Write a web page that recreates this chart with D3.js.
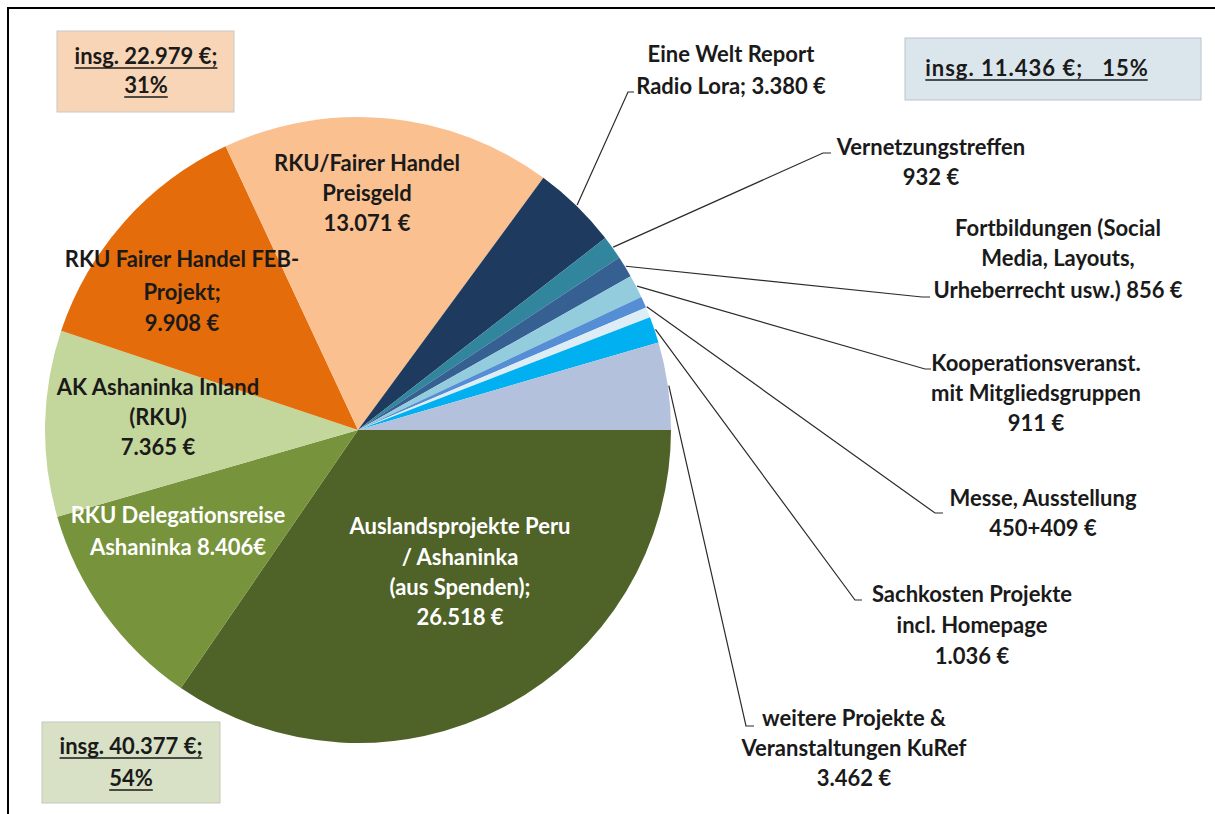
<!DOCTYPE html>
<html><head><meta charset="utf-8">
<script src="https://cdn.jsdelivr.net/npm/d3@7"></script>
<style>body{margin:0;background:#fff}svg{display:block}text{font-family:Lato,"Open Sans",sans-serif;font-weight:700}</style>
</head><body>
<svg id="c" width="1215" height="814"></svg>
<script>
const categories = ["Auslandsprojekte Peru / Ashaninka (aus Spenden)","RKU Delegationsreise Ashaninka","AK Ashaninka Inland (RKU)","RKU Fairer Handel FEB-Projekt","RKU/Fairer Handel Preisgeld","Eine Welt Report Radio Lora","Vernetzungstreffen","Fortbildungen (Social Media, Layouts, Urheberrecht usw.)","Kooperationsveranst. mit Mitgliedsgruppen","Messe","Ausstellung","Sachkosten Projekte incl. Homepage","weitere Projekte & Veranstaltungen KuRef"];
const values = [26518, 8406, 7365, 9908, 13071, 3380, 932, 856, 911, 450, 409, 1036, 3462];
const sliceColors = ["#4f6228","#77933c","#c3d69b","#e46c0a","#fac090","#1f3a5f","#31859c","#376092","#93cddd","#558ed5","#dcedf5","#00b0f0","#b4c1dc"];
const labelTexts = [
  ["Auslandsprojekte Peru","/ Ashaninka","(aus Spenden);","26.518 €"],
  ["RKU Delegationsreise","Ashaninka 8.406€"],
  ["AK Ashaninka Inland","(RKU)","7.365 €"],
  ["RKU Fairer Handel FEB-","Projekt;","9.908 €"],
  ["RKU/Fairer Handel","Preisgeld","13.071 €"],
  ["Eine Welt Report","Radio Lora; 3.380 €"],
  ["Vernetzungstreffen","932 €"],
  ["Fortbildungen (Social","Media, Layouts,","Urheberrecht usw.) 856 €"],
  ["Kooperationsveranst.","mit Mitgliedsgruppen","911 €"],
  ["Messe, Ausstellung","450+409 €"],
  ["Sachkosten Projekte","incl. Homepage","1.036 €"],
  ["weitere Projekte &","Veranstaltungen KuRef","3.462 €"]
];
// which slices each label refers to
const labelSlices = [[0],[1],[2],[3],[4],[5],[6],[7],[8],[9,10],[11],[12]];
const groupTotals = [["insg. 22.979 €;","31%"],["insg. 11.436 €;   15%"],["insg. 40.377 €;","54%"]];

const svg = d3.select("#c");
const cx = 358, cy = 430, R = 313;
const FS = 22;

// frame
svg.append("path").attr("d","M8,814 V8 H1215").attr("fill","none").attr("stroke","#000").attr("stroke-width",2);

const pie = d3.pie().sort(null).value(d=>d).startAngle(Math.PI/2).endAngle(Math.PI/2+2*Math.PI);
const arcs = pie(values);
const arc = d3.arc().innerRadius(0).outerRadius(R);
const g = svg.append("g").attr("transform",`translate(${cx},${cy})`);
g.selectAll("path").data(arcs).join("path").attr("d",arc).attr("fill",(d,i)=>sliceColors[i]);

// label layout (positions)
const layout = [
  {x:460, ys:[526,557,587,617], fill:"#fff"},
  {x:178, ys:[515,547], fill:"#fff"},
  {x:158, ys:[387,417,447]},
  {x:182, ys:[259,292,323]},
  {x:367, ys:[163,193,223]},
  {x:731, ys:[54,86], end:[628,92], tick:634},
  {x:931, ys:[147,177], end:[823,153], tick:831},
  {x:1058, ys:[228,258,290], end:[922,297], tick:930},
  {x:1036, ys:[363,393,423], end:[925,369], tick:931},
  {x:1043, ys:[498,528], end:[935,513], tick:943},
  {x:972, ys:[594,625,656], end:[855,600], tick:862},
  {x:854, ys:[718,748,778], end:[746,726], tick:754}
];

const leaders = svg.append("g").attr("fill","none").attr("stroke","#2b2b2b").attr("stroke-width",1.2);
labelTexts.forEach((lines,i)=>{
  const L = layout[i];
  if (L.end) {
    const sl = labelSlices[i];
    const a0 = arcs[sl[0]].startAngle, a1 = arcs[sl[sl.length-1]].endAngle;
    const am = (a0+a1)/2, rr = R+1;
    const sx = cx + rr*Math.sin(am), sy = cy - rr*Math.cos(am);
    leaders.append("path").attr("d",`M${sx},${sy} L${L.end[0]},${L.end[1]} L${L.tick},${L.end[1]}`);
  }
  const t = svg.append("text").attr("text-anchor","middle").attr("font-size",FS).attr("fill",L.fill||"#1a1a1a");
  lines.forEach((s,j)=>{
    t.append("tspan").attr("x",L.x).attr("y",L.ys[j]).attr("dy","0.35em").text(s);
  });
});

// group total boxes
const boxes = [
  {x:57,y:31,w:177,h:81,fill:"#f9d5b7",stroke:"#c8c8c8",cx:146,ys:[56,85],ls:0},
  {x:905,y:38,w:296,h:62,fill:"#dbe6ec",stroke:"#b8c4cc",cx:1037,ys:[68],ls:1},
  {x:42,y:722,w:178,h:81,fill:"#d8e0c5",stroke:"#c4c8bc",cx:131,ys:[746,778],ls:0}
];
groupTotals.forEach((lines,i)=>{
  const B = boxes[i];
  svg.append("rect").attr("x",B.x).attr("y",B.y).attr("width",B.w).attr("height",B.h).attr("fill",B.fill).attr("stroke",B.stroke);
  lines.forEach((s,j)=>{
    const t = svg.append("text").attr("x",B.cx).attr("y",B.ys[j]).attr("dy","0.35em").attr("text-anchor","middle").attr("font-size",FS).attr("fill","#1a1a1a").attr("xml:space","preserve").style("white-space","pre").style("letter-spacing",B.ls+"px").text(s);
    const bb = t.node().getBBox();
    svg.append("line").attr("x1",bb.x).attr("x2",bb.x+bb.width-B.ls).attr("y1",B.ys[j]+12).attr("y2",B.ys[j]+12).attr("stroke","#1a1a1a").attr("stroke-width",1.5);
  });
});
</script>
</body></html>
